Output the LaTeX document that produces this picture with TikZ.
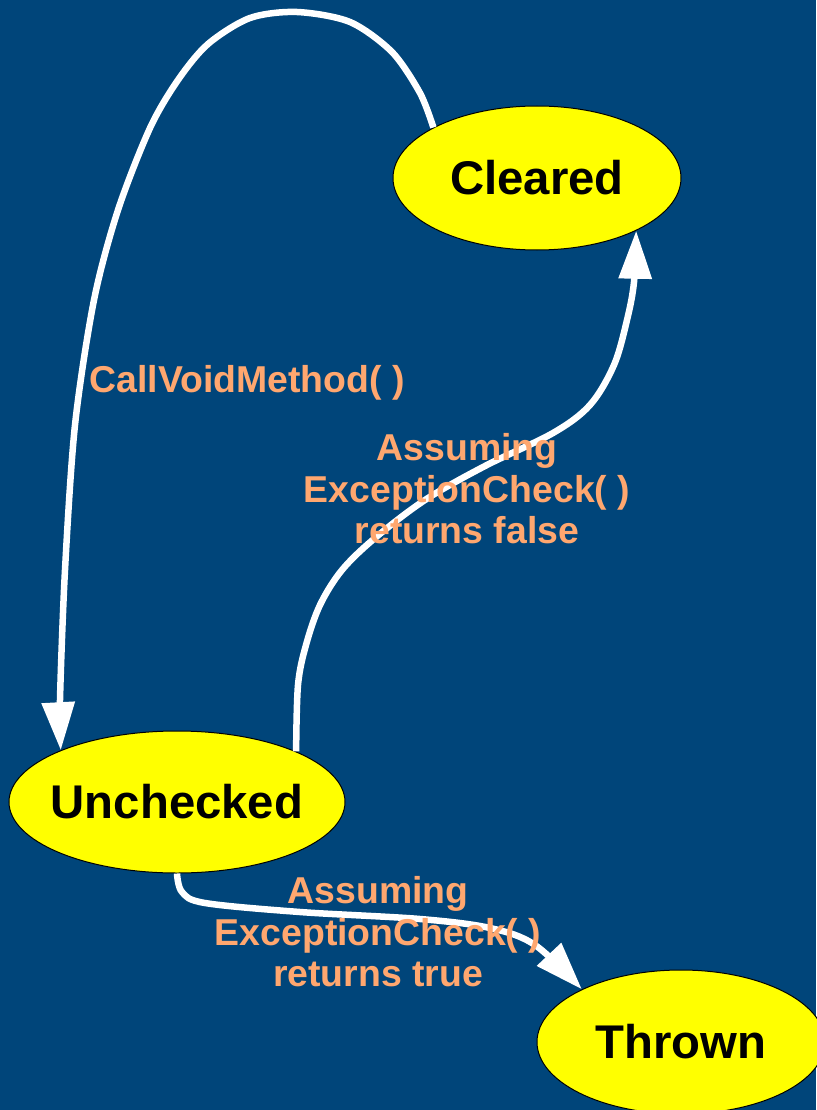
\documentclass[tikz,border=0pt]{standalone}
\usepackage{fontspec}
\setmainfont{Liberation Sans}
\usetikzlibrary{arrows.meta,shapes.geometric}
\definecolor{bg}{HTML}{00457A}
\definecolor{lbl}{HTML}{FFA76F}
\definecolor{stateyellow}{HTML}{FFFF00}
\begin{document}
\begin{tikzpicture}[x=1pt,y=-1pt,
  state/.style={ellipse, draw=black, line width=1pt, fill=stateyellow, inner sep=0pt,
    minimum width=288pt, minimum height=144pt,
    font=\fontsize{47.3}{56}\selectfont\bfseries},
  edgelabel/.style={text=lbl, align=center, font=\fontsize{37.4}{41.5}\selectfont\bfseries},
  flow/.style={draw=white, line width=6.5pt, line join=round,
    -{Triangle[length=48pt,width=32pt]}}]
% page background
\fill[bg] (0,0) rectangle (816,1110);
\useasboundingbox (0,0) rectangle (816,1110);

% states
\node[state] (cleared) at (537,178) {\makebox[0pt]{Cleared}};
\node[state, minimum width=336pt, minimum height=142pt] (unchecked) at (177,802) {\makebox[0pt]{Unchecked}};
\node[state] (thrown) at (681,1042) {\makebox[0pt]{Thrown}};

% transitions
\draw[flow] plot[smooth, tension=0.5] coordinates {(cleared.154) (420,93) (392,52) (350,22) (297,12) (250,18) (208,44) (178,80) (150,128) (118,210) (94,300) (75,425) (65,570) (60,700) (unchecked.156)};
\draw[flow] plot[smooth, tension=0.55] coordinates {(unchecked.23) (298,685) (306,645) (320,605) (342,570) (375,538) (425,500) (485,466) (553,433) (590,405) (614,365) (627,320) (634,282) (cleared.332)};
\draw[flow] plot[smooth, tension=0.55] coordinates {(unchecked.south) (182,892) (205,903) (300,912) (420,919) (490,928) (535,945) (thrown.152)};

% transition labels
\node[edgelabel] (lcall) at (247,383) {CallVoidMethod( )};
\node[edgelabel] (lfalse) at (467,489) {Assuming\\ExceptionCheck( )\\returns false};
\node[edgelabel] (ltrue) at (378,932) {Assuming\\ExceptionCheck( )\\returns true};
\end{tikzpicture}
\end{document}
